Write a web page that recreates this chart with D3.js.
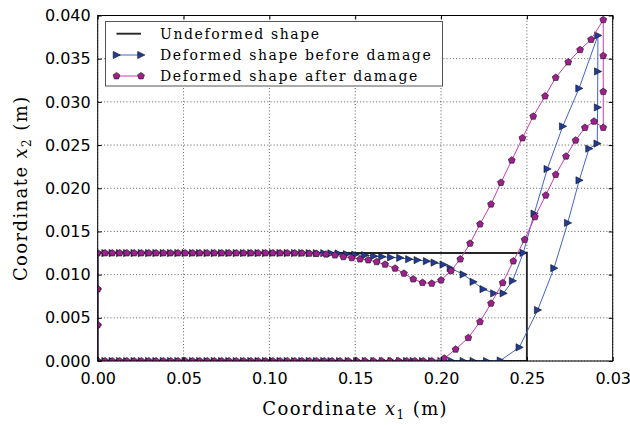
<!DOCTYPE html>
<html>
<head>
<meta charset="utf-8">
<style>
  body { margin: 0; background: #fff; }
  svg { display: block; }
  .tick text { font-family: "DejaVu Sans", sans-serif; font-size: 16px; fill: #000; }
  .label { font-family: "DejaVu Serif", serif; font-size: 18px; letter-spacing: 1.4px; }
  .legend text { font-family: "DejaVu Serif", serif; font-size: 14px; letter-spacing: 1.6px; }
</style>
</head>
<body>
<svg width="630" height="425"></svg>
<script src="https://d3js.org/d3.v7.min.js"></script>
<script>
// all coordinates in metres
// x of the nodes that barely move (shared by both edges and both shapes)
var nodeX = [0, 0.00043, 0.00085, 0.00128, 0.00170, 0.00213, 0.00255, 0.00298, 0.00340, 0.00383,
             0.00425, 0.00468, 0.00510, 0.00553, 0.00595, 0.00638, 0.00680, 0.00723, 0.00765, 0.00808,
             0.00850, 0.00893, 0.00935, 0.00978, 0.01020, 0.01063, 0.01105, 0.01148, 0.01190, 0.01233,
             0.01275];
var flatBottomY = [0, 0, 0, 0, 0, 0, 0, 0, 0, 0,
                   0, 0, 0, 0, 0, 0, 0, 0, 0, 0,
                   0, 0, 0, 0, 0, 0, 0, 0, 0, 0,
                   0];
var blueFlatTopY = [0.0125, 0.0125, 0.0125, 0.0125, 0.0125, 0.0125, 0.0125, 0.0125, 0.0125, 0.0125,
                    0.0125, 0.0125, 0.0125, 0.0125, 0.0125, 0.0125, 0.0125, 0.0125, 0.0125, 0.0125,
                    0.0125, 0.0125, 0.0125, 0.0125, 0.0125, 0.0125, 0.0125, 0.0125, 0.0125, 0.01249,
                    0.01249];
var magentaFlatTopY = [0.0125, 0.0125, 0.0125, 0.0125, 0.0125, 0.0125, 0.0125, 0.0125, 0.0125, 0.0125,
                       0.0125, 0.0125, 0.0125, 0.0125, 0.0125, 0.0125, 0.0125, 0.0125, 0.0125, 0.0125,
                       0.0125, 0.0125, 0.0125, 0.0125, 0.0125, 0.0125, 0.0125, 0.01249, 0.01248, 0.01245,
                       0.01242];
var leftEdgeY = [0.00833, 0.00417];

// before damage
var blueBottomX = [0.01318, 0.01360, 0.01410, 0.01460, 0.01510, 0.01560, 0.01610, 0.01660, 0.01710, 0.01760,
                   0.01800, 0.01839, 0.01893, 0.01946, 0.02000, 0.02062, 0.02130, 0.02188, 0.02266, 0.02346,
                   0.02456, 0.02563, 0.02658, 0.02738, 0.02805, 0.02862, 0.02910];
var blueBottomY = [0, 0, 0, 0, 0, 0, 0, 0, 0, 0,
                   0, 0, 0, 0, 0, 0, 0, 0, 0, 0.00006,
                   0.00158, 0.00590, 0.01075, 0.01599, 0.02092, 0.02459, 0.02517];
var blueRightX = [0.02912, 0.02913];
var blueRightY = [0.02936, 0.03352];
var blueTopX = [0.01318, 0.01360, 0.01402, 0.01450, 0.01499, 0.01557, 0.01609, 0.01656, 0.01707, 0.01761,
                0.01813, 0.01862, 0.01916, 0.01961, 0.02013, 0.02055, 0.02130, 0.02188, 0.02246, 0.02308,
                0.02363, 0.02417, 0.02479, 0.02543, 0.02619, 0.02709, 0.02804, 0.02914];
var blueTopY = [0.01248, 0.01247, 0.01245, 0.01237, 0.01231, 0.01225, 0.01214, 0.01208, 0.01199, 0.01194,
                0.01179, 0.01168, 0.01156, 0.01139, 0.01116, 0.01075, 0.01002, 0.00917, 0.00832, 0.00783,
                0.00783, 0.00928, 0.01252, 0.01707, 0.02223, 0.02717, 0.03156, 0.03769];

// after damage
var magentaBottomX = [0.01320, 0.01365, 0.01412, 0.01460, 0.01508, 0.01557, 0.01606, 0.01654, 0.01703, 0.01751,
                      0.01800, 0.01848, 0.01897, 0.01946, 0.02019, 0.02085, 0.02159, 0.02227, 0.02291, 0.02359,
                      0.02421, 0.02487, 0.02547, 0.02610, 0.02668, 0.02728, 0.02784, 0.02838, 0.02891, 0.02945];
var magentaBottomY = [0, 0, 0, 0, 0, 0, 0, 0, 0, 0,
                      0, 0, 0, 0, 0.00031, 0.00135, 0.00269, 0.00454, 0.00667, 0.00905,
                      0.01156, 0.01405, 0.01668, 0.01919, 0.02158, 0.02370, 0.02555, 0.02702, 0.02774, 0.02702];
var magentaRightX = [0.02945, 0.02945];
var magentaRightY = [0.03118, 0.03534];
var magentaTopX = [0.01330, 0.01382, 0.01431, 0.01480, 0.01528, 0.01576, 0.01625, 0.01674, 0.01732, 0.01784,
                   0.01838, 0.01892, 0.01946, 0.02000, 0.02058, 0.02112, 0.02169, 0.02227, 0.02291, 0.02349,
                   0.02412, 0.02474, 0.02537, 0.02606, 0.02668, 0.02741, 0.02810, 0.02874, 0.02945];
var magentaTopY = [0.01236, 0.01225, 0.01206, 0.01194, 0.01179, 0.01168, 0.01148, 0.01118, 0.01072, 0.01014,
                   0.00948, 0.00907, 0.00898, 0.00936, 0.01044, 0.01179, 0.01361, 0.01584, 0.01815, 0.02066,
                   0.02324, 0.02581, 0.02832, 0.03067, 0.03280, 0.03460, 0.03603, 0.03722, 0.03950];

var undeformedX = [0, 0.025, 0.025, 0, 0];
var undeformedY = [0, 0, 0.0125, 0.0125, 0];

var xTicks = [0, 0.005, 0.01, 0.015, 0.02, 0.025, 0.03];
var xTickLabels = ["0.00", "0.05", "0.10", "0.15", "0.20", "0.25", "0.03"];
var yTicks = [0, 0.005, 0.01, 0.015, 0.02, 0.025, 0.03, 0.035, 0.04];

var legendLabels = ["Undeformed shape", "Deformed shape before damage", "Deformed shape after damage"];

var blueLine = "#4263c9", blueFill = "#203c96";
var magLine = "#c83cb4", magFill = "#a01f8e";

var svg = d3.select("svg");
var x0 = 97.7, x1 = 612.7, y0 = 361, y1 = 15.5;

var x = d3.scaleLinear().domain([0, 0.03]).range([x0, x1]);
var y = d3.scaleLinear().domain([0, 0.04]).range([y0, y1]);

svg.append("defs").append("clipPath").attr("id", "plot")
  .append("rect").attr("x", x0).attr("y", y1).attr("width", x1 - x0).attr("height", y0 - y1);

// grid
var grid = svg.append("g").attr("stroke", "#333").attr("stroke-width", 0.8).attr("stroke-dasharray", "1,2.2");
grid.selectAll(".gx").data(xTicks).enter().append("line")
    .attr("x1", function(d) { return x(d); }).attr("x2", function(d) { return x(d); })
    .attr("y1", y0).attr("y2", y1);
grid.selectAll(".gy").data(yTicks).enter().append("line")
    .attr("y1", function(d) { return y(d); }).attr("y2", function(d) { return y(d); })
    .attr("x1", x0).attr("x2", x1);

// build the closed outline of a deformed shape
function outline(flatTopY, bx, by, rx, ry, tx, ty) {
  var pts = [];
  nodeX.forEach(function(v, i) { pts.push([v, flatBottomY[i]]); });
  bx.forEach(function(v, i) { pts.push([v, by[i]]); });
  rx.forEach(function(v, i) { pts.push([v, ry[i]]); });
  var top = [];
  nodeX.forEach(function(v, i) { top.push([v, flatTopY[i]]); });
  tx.forEach(function(v, i) { top.push([v, ty[i]]); });
  top.reverse().forEach(function(p) { pts.push(p); });
  leftEdgeY.forEach(function(v) { pts.push([0, v]); });
  return pts;
}

var blue = outline(blueFlatTopY, blueBottomX, blueBottomY, blueRightX, blueRightY, blueTopX, blueTopY);
var mag = outline(magentaFlatTopY, magentaBottomX, magentaBottomY, magentaRightX, magentaRightY, magentaTopX, magentaTopY);

var line = d3.line().x(function(d) { return x(d[0]); }).y(function(d) { return y(d[1]); });

var tri = "M-3.3,-3.6L3.9,0L-3.3,3.6Z";
var pent = (function(r) {
  var s = "";
  for (var k = 0; k < 5; k++) {
    var a = -Math.PI / 2 + k * 2 * Math.PI / 5;
    s += (k ? "L" : "M") + (r * Math.cos(a)).toFixed(2) + "," + (r * Math.sin(a)).toFixed(2);
  }
  return s + "Z";
})(3.6);

var plot = svg.append("g").attr("clip-path", "url(#plot)");

plot.append("path")
    .datum(undeformedX.map(function(v, i) { return [v, undeformedY[i]]; }))
    .attr("fill", "none").attr("stroke", "#262626").attr("stroke-width", 1.9)
    .attr("d", line);

plot.append("path").datum(blue.concat([blue[0]]))
    .attr("fill", "none").attr("stroke", blueLine).attr("stroke-width", 1)
    .attr("d", line);
plot.selectAll(".bm").data(blue).enter().append("path")
    .attr("d", tri)
    .attr("transform", function(d) { return "translate(" + x(d[0]) + "," + y(d[1]) + ")"; })
    .attr("fill", blueFill).attr("stroke", "#111").attr("stroke-width", 0.6);

plot.append("path").datum(mag.concat([mag[0]]))
    .attr("fill", "none").attr("stroke", magLine).attr("stroke-width", 1)
    .attr("d", line);
plot.selectAll(".mm").data(mag).enter().append("path")
    .attr("d", pent)
    .attr("transform", function(d) { return "translate(" + x(d[0]) + "," + y(d[1]) + ")"; })
    .attr("fill", magFill).attr("stroke", "#111").attr("stroke-width", 0.6);

// frame and ticks
svg.append("rect").attr("x", x0).attr("y", y1).attr("width", x1 - x0).attr("height", y0 - y1)
    .attr("fill", "none").attr("stroke", "#000").attr("stroke-width", 1);

svg.append("g").attr("transform", "translate(0," + y0 + ")")
    .call(d3.axisBottom(x).tickValues(xTicks).tickSize(-4).tickSizeOuter(0).tickPadding(11.5)
      .tickFormat(function(d, i) { return xTickLabels[i]; }))
    .call(function(g) { g.select(".domain").remove(); });
svg.append("g").attr("transform", "translate(" + x0 + ",0)")
    .call(d3.axisLeft(y).tickValues(yTicks).tickSize(-4).tickSizeOuter(0).tickPadding(7)
      .tickFormat(d3.format(".3f")))
    .call(function(g) { g.select(".domain").remove(); });
svg.append("g").attr("transform", "translate(0," + y1 + ")")
    .call(d3.axisTop(x).tickValues(xTicks).tickSize(-4).tickSizeOuter(0).tickFormat(""))
    .call(function(g) { g.select(".domain").remove(); });
svg.append("g").attr("transform", "translate(" + x1 + ",0)")
    .call(d3.axisRight(y).tickValues(yTicks).tickSize(-4).tickSizeOuter(0).tickFormat(""))
    .call(function(g) { g.select(".domain").remove(); });

// axis titles
var xt = svg.append("text").attr("class", "label").attr("x", (x0 + x1) / 2).attr("y", 415)
    .attr("text-anchor", "middle");
xt.append("tspan").text("Coordinate ");
xt.append("tspan").attr("font-style", "italic").text("x");
xt.append("tspan").attr("font-size", "12px").attr("dy", 4).text("1");
xt.append("tspan").attr("dy", -4).text(" (m)");

var yt = svg.append("text").attr("class", "label")
    .attr("transform", "translate(27," + (y0 + y1) / 2 + ") rotate(-90)")
    .attr("text-anchor", "middle");
yt.append("tspan").text("Coordinate ");
yt.append("tspan").attr("font-style", "italic").text("x");
yt.append("tspan").attr("font-size", "12px").attr("dy", 4).text("2");
yt.append("tspan").attr("dy", -4).text(" (m)");

// legend
var lg = svg.append("g").attr("class", "legend");
lg.append("rect").attr("x", 105.5).attr("y", 21.5).attr("width", 337).attr("height", 64.5)
    .attr("fill", "#fff").attr("stroke", "#555").attr("stroke-width", 1);
var rows = [33.7, 55, 76];
var lineCols = ["#262626", blueLine, magLine];
var marks = [null, [tri, blueFill], [pent, magFill]];
legendLabels.forEach(function(t, i) {
  lg.append("line").attr("x1", 116.5).attr("x2", 141).attr("y1", rows[i]).attr("y2", rows[i])
    .attr("stroke", lineCols[i]).attr("stroke-width", i === 0 ? 1.9 : 1);
  if (marks[i]) {
    [116.5, 141].forEach(function(px) {
      lg.append("path").attr("d", marks[i][0])
        .attr("transform", "translate(" + px + "," + rows[i] + ")")
        .attr("fill", marks[i][1]).attr("stroke", "#111").attr("stroke-width", 0.6);
    });
  }
  lg.append("text").attr("x", 160).attr("y", rows[i] + 4.8).text(t);
});
</script>
</body>
</html>
